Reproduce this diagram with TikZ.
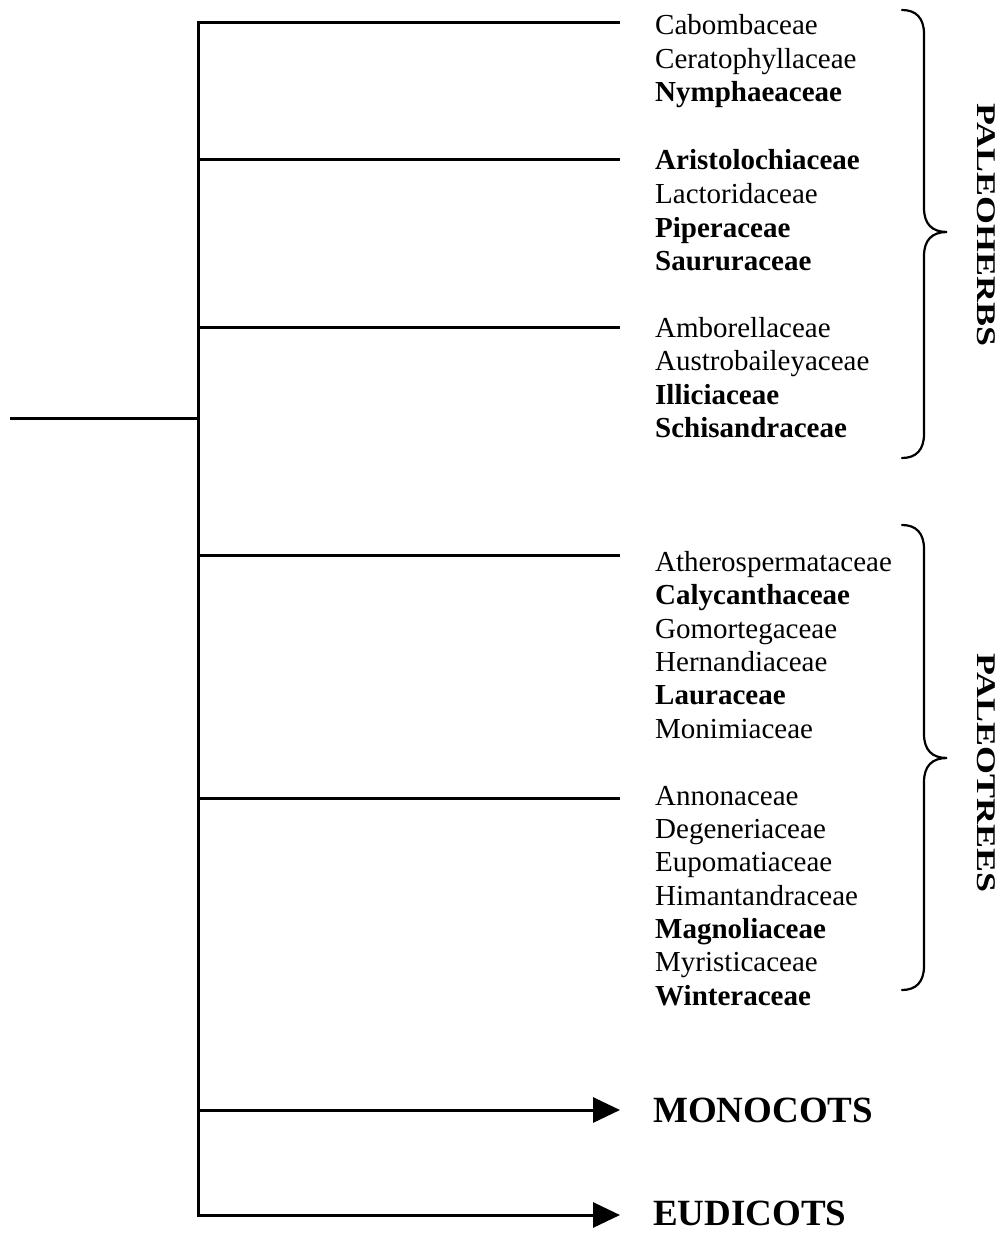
\documentclass[tikz,border=0pt]{standalone}
\usepackage{fontspec}
\setmainfont{Liberation Serif}
\usetikzlibrary{arrows.meta}
\begin{document}
\begin{tikzpicture}[x=1pt,y=-1pt,
  tree/.style={line width=3pt},
  tiparrow/.style={line width=3pt,-{Triangle[length=27pt,width=25pt]}},
  fam/.style={anchor=base west,inner sep=0pt,font=\fontsize{29}{33}\selectfont},
  famb/.style={anchor=base west,inner sep=0pt,font=\bfseries\fontsize{29}{33}\selectfont},
  grp/.style={inner sep=0pt,rotate=-90,font=\bfseries\fontsize{27}{27}\selectfont},
  clade/.style={anchor=west,inner sep=0pt,font=\bfseries\fontsize{37}{37}\selectfont},
  brace/.style={line width=2.2pt,line cap=round}]
\useasboundingbox (0,0) rectangle (1008,1233);

% coordinates of the tree
\coordinate (r0) at (10,418);
\coordinate (r1) at (198,418);
\coordinate (s1) at (198,23);
\coordinate (s2) at (198,160);
\coordinate (s3) at (198,327);
\coordinate (s4) at (198,555);
\coordinate (s5) at (198,798);
\coordinate (s6) at (198,1110);
\coordinate (s7) at (198,1215);
\coordinate (e1) at (620,23);
\coordinate (e2) at (620,160);
\coordinate (e3) at (620,327);
\coordinate (e4) at (620,555);
\coordinate (e5) at (620,798);
\coordinate (e6) at (620,1110);
\coordinate (e7) at (620,1215);

% tree lines
\draw[tree] (r0) -- (r1);
\draw[tiparrow] (e1) -- (s1) -- (s7) -- (e7);
\draw[tree] (s2) -- (e2);
\draw[tree] (s3) -- (e3);
\draw[tree] (s4) -- (e4);
\draw[tree] (s5) -- (e5);
\draw[tiparrow] (s6) -- (e6);

% family names
\node[fam]  (t1)  at (655,35)    {Cabombaceae};
\node[fam]  (t2)  at (655,68.5)  {Ceratophyllaceae};
\node[famb] (t3)  at (655,102)   {Nymphaeaceae};
\node[famb] (t4)  at (655,170)   {Aristolochiaceae};
\node[fam]  (t5)  at (655,203.5) {Lactoridaceae};
\node[famb] (t6)  at (655,237)   {Piperaceae};
\node[famb] (t7)  at (655,270)   {Saururaceae};
\node[fam]  (t8)  at (655,337)   {Amborellaceae};
\node[fam]  (t9)  at (655,370.5) {Austrobaileyaceae};
\node[famb] (t10) at (655,404)   {Illiciaceae};
\node[famb] (t11) at (655,437.5) {Schisandraceae};
\node[fam]  (t12) at (655,571)   {Atherospermataceae};
\node[famb] (t13) at (655,604.5) {Calycanthaceae};
\node[fam]  (t14) at (655,638)   {Gomortegaceae};
\node[fam]  (t15) at (655,671)   {Hernandiaceae};
\node[famb] (t16) at (655,704.5) {Lauraceae};
\node[fam]  (t17) at (655,738)   {Monimiaceae};
\node[fam]  (t18) at (655,805)   {Annonaceae};
\node[fam]  (t19) at (655,838)   {Degeneriaceae};
\node[fam]  (t20) at (655,871.5) {Eupomatiaceae};
\node[fam]  (t21) at (655,905)   {Himantandraceae};
\node[famb] (t22) at (655,938)   {Magnoliaceae};
\node[fam]  (t23) at (655,971.5) {Myristicaceae};
\node[famb] (t24) at (655,1005)  {Winteraceae};

% clades
\node[clade] (mono) at (653,1110) {MONOCOTS};
\node[clade] (eudi) at (653,1213) {EUDICOTS};

% braces
\draw[brace] (902,10) .. controls (916,10) and (924,18) .. (924,34) -- (924,208)
  .. controls (924,224) and (932,232) .. (947,232)
  .. controls (932,232) and (924,240) .. (924,256) -- (924,434)
  .. controls (924,450) and (916,458) .. (902,458);
\draw[brace] (902,525) .. controls (916,525) and (924,533) .. (924,549) -- (924,734)
  .. controls (924,750) and (932,758) .. (947,758)
  .. controls (932,758) and (924,766) .. (924,782) -- (924,966)
  .. controls (924,982) and (916,990) .. (902,990);

% group labels
\node[grp] (herbs) at (986,225) {\scalebox{1.33}[1]{PALEOHERBS}};
\node[grp] (trees) at (986,773) {\scalebox{1.33}[1]{PALEOTREES}};
\end{tikzpicture}
\end{document}
